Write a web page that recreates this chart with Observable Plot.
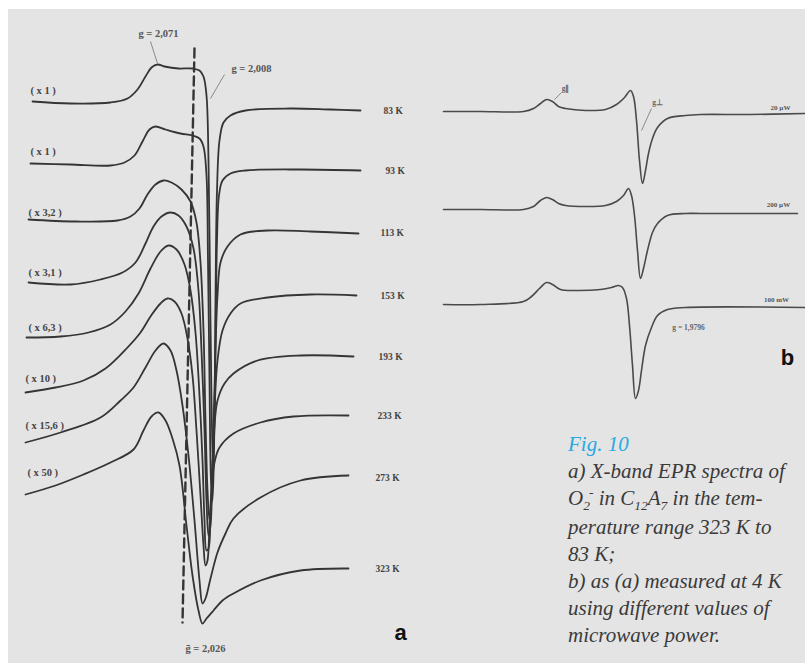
<!DOCTYPE html>
<html><head><meta charset="utf-8">
<script src="https://cdn.jsdelivr.net/npm/d3@7"></script>
<script src="https://cdn.jsdelivr.net/npm/@observablehq/plot@0.6"></script>
<style>
html,body{margin:0;padding:0;background:#fff;}
#wrap{position:relative;width:805px;height:663px;overflow:hidden;}
#bg{position:absolute;left:8px;top:9px;right:0;bottom:0;background:#e4e4e4;}
#chart{position:absolute;left:0;top:0;}
#cap{position:absolute;left:568px;top:431px;font-family:"Liberation Serif",serif;font-style:italic;font-size:21px;line-height:26.8px;color:#3a3a3a;white-space:nowrap;}
#cap .fig{color:#29a9e1;}
#cap .s{font-size:13.5px;position:relative;}
</style></head>
<body>
<div id="wrap"><div id="bg"></div><div id="chart"></div>
<div id="cap"><span class="fig">Fig. 10</span><br>a) X-band EPR spectra of<br>O<span class="s" style="top:5px">2</span><span class="s" style="top:-8px;margin-left:-1px">-</span> in C<span class="s" style="top:5px">12</span>A<span class="s" style="top:5px">7</span> in the tem-<br>perature range 323 K to<br>83 K;<br>b) as (a) measured at 4 K<br>using different values of<br>microwave power.</div>
</div>
<script>
// ---- Panel a: EPR spectra, temperature series (field, stacked level) ----
const temps = ["83 K","93 K","113 K","153 K","193 K","233 K","273 K","323 K"];
const magLabels = ["( x 1 )","( x 1 )","( x 3,2 )","( x 3,1 )","( x 6,3 )","( x 10 )","( x 15,6 )","( x 50 )"];
const magField = [30,30,28,28,28,25,25,27];
const magLevel = [90,151,212,272,327,378,425,472];
const tempField = [383,385,380,380,378,377,375,375];
const tempLevel = [110,170,232,295,356,415,477,568];

const T83 = [[32,101],[70,103],[110,102],[127,98],[137,89],[145,76],[151,67],[157,64],[164,66],[178,68],[192,68],[199,70],[203,76],[206,95],[208,160],[209.5,280],[211,400],[212.5,465],[214,420],[215,300],[216.5,190],[219,140],[223,122],[230,115],[245,110],[290,108],[330,109],[360,110]];
const T93 = [[30,163],[70,164],[110,165],[124,162],[134,155],[142,141],[149,129],[155,126],[165,129],[180,133],[192,135],[199,138],[203,146],[206,175],[207.5,260],[209,380],[210.5,480],[212,500],[213.5,450],[215,340],[216.5,240],[218.5,195],[222,180],[230,173],[245,170],[300,169],[360,170]];
const T113 = [[28,219],[75,221],[117,220],[130,216],[139,208],[147,194],[155,184],[163,180],[171,182],[181,189],[190,201],[196,222],[200,262],[203,330],[205,420],[207,490],[209,520],[211,500],[213,430],[215,350],[217,295],[220,262],[227,246],[240,234],[267,230],[310,231],[358,233]];
const T153 = [[28,282],[70,284],[100,279],[122,272],[135,262],[145,243],[153,226],[161,216],[170,212],[178,215],[186,226],[193,248],[198,290],[201,350],[204,430],[206,500],[208,535],[210,525],[212,470],[214,410],[217,360],[222,330],[230,313],[240,303],[267,297],[310,294],[356,295]];
const T193 = [[26,337],[60,336],[88,332],[110,324],[125,311],[138,293],[150,268],[160,251],[168,245],[176,249],[184,264],[190,290],[195,332],[199,395],[202,460],[204,520],[206,550],[208,548],[210,515],[212,462],[214,425],[217,400],[224,383],[233,373],[257,360],[300,355],[353,356]];
const T233 = [[25,392],[55,387],[83,380],[105,368],[127,347],[140,332],[150,316],[160,303],[167,298],[174,301],[181,313],[187,338],[192,375],[196,430],[200,495],[203,545],[205,565],[207,560],[209,525],[211,490],[214,462],[219,447],[233,433],[260,422],[293,416],[348,415]];
const T273 = [[25,442],[60,432],[100,417],[120,400],[133,387],[145,367],[155,350],[163,343],[170,350],[176,370],[182,405],[188,455],[194,520],[199,580],[202,603],[205,598],[210,578],[217,552],[225,533],[233,518],[260,497],[300,480],[348,475]];
const T323 = [[25,494],[55,485],[83,474],[110,462],[133,449],[143,430],[151,416],[158,412],[165,420],[172,438],[179,465],[186,525],[192,575],[198,610],[202,623],[206,618],[213,610],[222,600],[233,593],[260,580],[300,570],[348,568]];
const panelA = [T83,T93,T113,T153,T193,T233,T273,T323];

// dashed reference (g = 2,026) and g-value labels
const dashRef = [[194,48],[182,622]];
const gText = ["g = 2,071","g = 2,008","ḡ = 2,026"];
const gField = [158,251,205];
const gLevel = [33,68,648];
const leadA = [[150,41,157,63],[224,74,210,98]];

// ---- Panel b: spectra at 4 K, microwave power series ----
const powers = ["20 µW","200 µW","100 mW"];
const powerField = [780,778,776];
const powerLevel = [107,204,299];
const B20 = [[443,111],[480,111],[523,111],[533,108],[540,103],[546,99],[552,101],[558,106],[565,108],[585,110],[605,109],[616,104],[624,97],[630,90],[633,96],[636,120],[639,160],[642,183],[645,170],[648,153],[652,138],[657,127],[667,118],[685,115],[700,114],[750,114],[805,113]];
const B200 = [[443,209],[480,209],[523,209],[533,206],[540,200],[546,197],[552,199],[558,203],[565,205],[585,206],[605,205],[616,201],[623,195],[628,188],[631,195],[634,215],[637,250],[640,278],[643,268],[647,250],[652,232],[657,223],[667,215],[685,213],[700,213],[797,213]];
const B100 = [[443,304],[480,304],[523,301],[531,296],[539,288],[546,282],[552,284],[560,289],[575,290],[600,289],[611,287],[618,285],[622,287],[626,298],[629,325],[632,365],[635,398],[638,390],[641,370],[645,345],[651,327],[657,315],[667,309],[685,307],[805,307]];
const panelB = [B20,B200,B100];
const gbText = ["g∥","g⊥","g = 1,9796"];
const gbField = [565,657,688];
const gbLevel = [88,102,327];
const leadB = [[561,92,554,99],[651,108,641,130]];

const panelLetters = ["a","b"];
const letterField = [400,787];
const letterLevel = [632,357];

// ---- build tables ----
const rowsA = panelA.flatMap((pts,i)=>pts.map(([f,l])=>({trace:temps[i],field:f,level:l})));
const rowsB = panelB.flatMap((pts,i)=>pts.map(([f,l])=>({trace:powers[i],field:f,level:l})));
const dashRows = dashRef.map(([f,l])=>({field:f,level:l}));
const leaders = [...leadA,...leadB].map(([a,b,c,d])=>({x1:a,y1:b,x2:c,y2:d}));
const lab = (t,f,l)=>t.map((s,i)=>({text:s,field:f[i],level:l[i]}));

const W=805,H=663;
const ink="#353535";
const serif="Liberation Serif, Times New Roman, serif";
const chart = Plot.plot({
  width:W,height:H,margin:0,
  style:{background:"transparent",overflow:"visible"},
  x:{domain:[0,W],range:[0,W],axis:null},
  y:{domain:[0,H],range:[0,H],axis:null},
  marks:[
    Plot.line(dashRows,{x:"field",y:"level",stroke:ink,strokeWidth:2.4,strokeDasharray:"9,5"}),
    Plot.line(rowsA,{x:"field",y:"level",z:"trace",curve:"catmull-rom",stroke:ink,strokeWidth:1.8}),
    Plot.line(rowsB,{x:"field",y:"level",z:"trace",curve:"catmull-rom",stroke:"#4a4a4a",strokeWidth:1.6}),
    Plot.link(leaders,{x1:"x1",y1:"y1",x2:"x2",y2:"y2",stroke:"#808080",strokeWidth:0.9}),
    Plot.text(lab(magLabels,magField,magLevel),{x:"field",y:"level",text:"text",textAnchor:"start",fontSize:10.5,fontWeight:"bold",fontFamily:serif,fill:"#444"}),
    Plot.text(lab(temps,tempField,tempLevel),{x:"field",y:"level",text:"text",textAnchor:"start",fontSize:9.5,fontWeight:"bold",fontFamily:serif,fill:"#444"}),
    Plot.text(lab(gText,gField,gLevel),{x:"field",y:"level",text:"text",fontSize:10.5,fontWeight:"bold",fontFamily:serif,fill:"#555"}),
    Plot.text(lab(powers,powerField,powerLevel),{x:"field",y:"level",text:"text",fontSize:7,fontWeight:"bold",fontFamily:serif,fill:"#555"}),
    Plot.text(lab(gbText,gbField,gbLevel),{x:"field",y:"level",text:"text",fontSize:7.5,fontWeight:"bold",fontFamily:serif,fill:"#666"}),
    Plot.text(lab(panelLetters,letterField,letterLevel),{x:"field",y:"level",text:"text",fontSize:22,fontWeight:"bold",fontFamily:"Liberation Sans Narrow, Liberation Sans, Arial, sans-serif",fill:"#111"})
  ]
});
document.getElementById("chart").appendChild(chart);
</script>
</body></html>
